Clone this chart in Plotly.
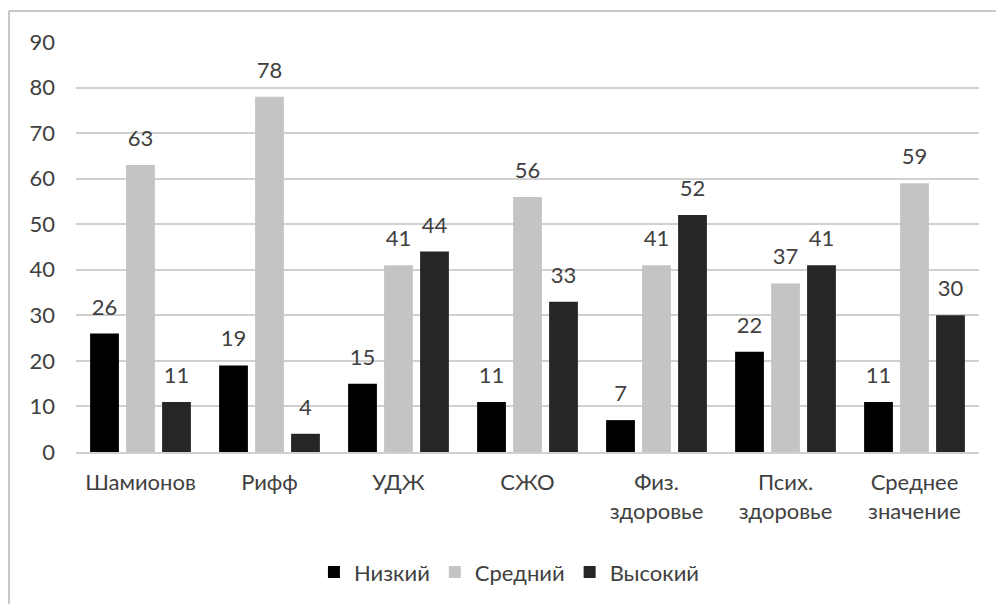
import plotly.graph_objects as go

categories = ["Шамионов", "Рифф", "УДЖ", "СЖО", "Физ.<br>здоровье", "Псих.<br>здоровье", "Среднее<br>значение"]
series_names = ["Низкий", "Средний", "Высокий"]
low = [26, 19, 15, 11, 7, 22, 11]
mid = [63, 78, 41, 56, 41, 37, 59]
high = [11, 4, 44, 33, 52, 41, 30]
y_ticks = [0, 10, 20, 30, 40, 50, 60, 70, 80, 90]

colors = ["#000000", "#c4c4c4", "#262626"]
FONT = "Lato"
TXT = "#404040"
FS = 22

fig = go.Figure()
for name, vals, col in zip(series_names, [low, mid, high], colors):
    fig.add_trace(go.Bar(x=categories, y=vals, name=name, marker=dict(color=col, line=dict(width=0)),
                         offsetgroup=name))
for name, vals in zip(series_names, [low, mid, high]):
    fig.add_trace(go.Scatter(x=categories, y=vals, mode="markers+text", text=[str(v) for v in vals],
                             textposition="top center", offsetgroup=name, showlegend=False,
                             marker=dict(size=20, opacity=0), hoverinfo="skip",
                             textfont=dict(family=FONT, size=FS, color=TXT), cliponaxis=False))

fig.update_layout(
    width=996, height=604,
    margin=dict(l=76, r=17, t=42, b=151),
    paper_bgcolor="white", plot_bgcolor="white",
    barmode="group", bargap=0.163, bargroupgap=0.2,
    scattermode="group",
    font=dict(family=FONT, size=FS, color=TXT),
    showlegend=True,
    legend=dict(orientation="h", x=0.48, xanchor="center", y=-0.29, yanchor="middle",
                font=dict(family=FONT, size=FS, color=TXT), itemwidth=30, traceorder="normal"),
    xaxis=dict(showgrid=False, showline=True, linecolor="#d0d0d0", linewidth=2, ticks="",
               tickfont=dict(family=FONT, size=FS, color=TXT), ticklabelstandoff=10),
    yaxis=dict(range=[0, 90], tickvals=y_ticks, showgrid=True, gridcolor="#d0d0d0", gridwidth=2,
               zeroline=False, showline=False, ticks="",
               tickfont=dict(family=FONT, size=FS, color=TXT), ticklabelstandoff=20),
    shapes=[
        dict(type="line", xref="paper", yref="paper", x0=(9 - 76) / 903, x1=(996 - 76) / 903,
             y0=(453 - 11) / 411, y1=(453 - 11) / 411, line=dict(color="#c8c8c8", width=2)),
        dict(type="line", xref="paper", yref="paper", x0=(9 - 76) / 903, x1=(9 - 76) / 903,
             y0=(453 - 11) / 411, y1=(453 - 610) / 411, line=dict(color="#c8c8c8", width=2)),
    ],
)

fig.write_html("out.html")
